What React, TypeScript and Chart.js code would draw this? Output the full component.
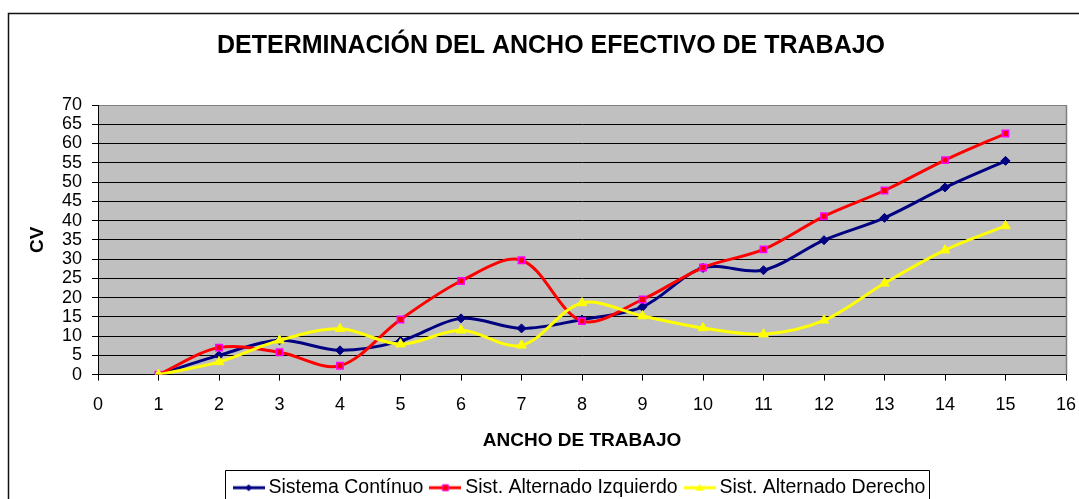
import React, { useEffect, useRef } from 'react';
import { Chart, registerables } from 'chart.js';

Chart.register(...registerables);

const chartTitle = 'DETERMINACIÓN DEL ANCHO EFECTIVO DE TRABAJO';
const xAxisTitle = 'ANCHO DE TRABAJO';
const yAxisTitle = 'CV';
const seriesNames = ['Sistema Contínuo', 'Sist. Alternado Izquierdo', 'Sist. Alternado Derecho'];

const anchoTrabajo = [1, 2, 3, 4, 5, 6, 7, 8, 9, 10, 11, 12, 13, 14, 15];
const sistemaContinuo = [0, 5.0, 8.9, 6.3, 8.7, 14.6, 12.0, 14.3, 17.6, 27.7, 27.1, 34.9, 40.7, 48.6, 55.5];
const alternadoIzquierdo = [0, 7.0, 5.8, 2.3, 14.3, 24.3, 29.7, 13.9, 19.5, 27.8, 32.5, 41.1, 47.8, 55.7, 62.6];
const alternadoDerecho = [0, 3.3, 8.9, 11.9, 7.9, 11.5, 7.6, 18.6, 15.2, 12.1, 10.5, 14.1, 23.7, 32.3, 38.6];

const xTicks = [0, 1, 2, 3, 4, 5, 6, 7, 8, 9, 10, 11, 12, 13, 14, 15, 16];
const yTicks = [0, 5, 10, 15, 20, 25, 30, 35, 40, 45, 50, 55, 60, 65, 70];

const FONT = "'Liberation Sans', Arial, sans-serif";

function makeIcon(color: string, marker: string, markerFill: string, markerStroke: string): HTMLCanvasElement {
  const c = document.createElement('canvas');
  c.width = 32;
  c.height = 12;
  const ctx = c.getContext('2d')!;
  ctx.strokeStyle = color;
  ctx.lineWidth = 3;
  ctx.beginPath();
  ctx.moveTo(0, 6);
  ctx.lineTo(32, 6);
  ctx.stroke();
  ctx.fillStyle = markerFill;
  ctx.strokeStyle = markerStroke;
  ctx.lineWidth = 1;
  ctx.beginPath();
  if (marker === 'diamond') {
    ctx.moveTo(16, 2.5); ctx.lineTo(19.5, 6); ctx.lineTo(16, 9.5); ctx.lineTo(12.5, 6); ctx.closePath();
    ctx.fill();
  } else if (marker === 'square') {
    ctx.rect(13, 3, 6, 6);
    ctx.fill(); ctx.stroke();
  } else {
    ctx.moveTo(16, 2); ctx.lineTo(20, 9); ctx.lineTo(12, 9); ctx.closePath();
    ctx.fill();
  }
  return c;
}

export default function App() {
  const ref = useRef<HTMLCanvasElement>(null);
  useEffect(() => {
    if (!ref.current) return;
    const icons = [
      makeIcon('#000080', 'diamond', '#000080', '#000080'),
      makeIcon('#FF0000', 'square', '#FF0000', '#FF00FF'),
      makeIcon('#FFFF00', 'triangle', '#FFFF00', '#FFFF00'),
    ];
    const toPts = (ys: number[]) => anchoTrabajo.map((x, i) => ({ x, y: ys[i] }));

    const decor = {
      id: 'decor',
      beforeDraw(chart: any) {
        const { ctx, chartArea: a } = chart;
        ctx.save();
        ctx.fillStyle = '#FFFFFF';
        ctx.fillRect(0, 0, chart.width, chart.height);
        ctx.fillStyle = '#C0C0C0';
        ctx.fillRect(a.left, a.top, a.right - a.left, a.bottom - a.top);
        ctx.restore();
      },
      afterDraw(chart: any) {
        const { ctx, chartArea: a } = chart;
        ctx.save();
        ctx.strokeStyle = '#808080';
        ctx.lineWidth = 1.5;
        ctx.beginPath();
        ctx.moveTo(Math.round(a.right) + 0.5, a.top);
        ctx.lineTo(Math.round(a.right) + 0.5, a.bottom);
        ctx.stroke();
        ctx.strokeStyle = '#111';
        ctx.lineWidth = 1.5;
        ctx.beginPath();
        ctx.moveTo(8.5, chart.height + 10);
        ctx.lineTo(8.5, 13.5);
        ctx.lineTo(chart.width + 10, 13.5);
        ctx.stroke();
        ctx.fillStyle = '#000';
        ctx.font = `bold 25px ${FONT}`;
        ctx.textAlign = 'center';
        ctx.textBaseline = 'middle';
        ctx.fillText(chartTitle, 551, 46);
        const boxes = chart.legend?.legendHitBoxes;
        if (boxes && boxes.length) {
          const first = boxes[0];
          const last = boxes[boxes.length - 1];
          const l = Math.round(first.left - 14) + 0.5;
          const r = Math.round(last.left + last.width + 4) + 0.5;
          const t = Math.round(first.top + first.height / 2 - 17.5) + 0.5;
          ctx.strokeStyle = '#000';
          ctx.lineWidth = 1;
          ctx.beginPath();
          ctx.moveTo(l, chart.height + 10);
          ctx.lineTo(l, t);
          ctx.lineTo(r, t);
          ctx.lineTo(r, chart.height + 10);
          ctx.stroke();
        }
        ctx.restore();
      },
    };

    const chart = new Chart(ref.current, {
      type: 'line',
      data: {
        datasets: [
          {
            label: seriesNames[0],
            data: toPts(sistemaContinuo),
            borderColor: '#000080',
            backgroundColor: '#000080',
            borderWidth: 3,
            pointStyle: 'rectRot',
            pointRadius: 4.5,
            pointBackgroundColor: '#000080',
            pointBorderColor: '#000080',
            pointBorderWidth: 1,
            tension: 0.33,
            order: 3,
          },
          {
            label: seriesNames[1],
            data: toPts(alternadoIzquierdo),
            borderColor: '#FF0000',
            backgroundColor: '#FF0000',
            borderWidth: 3,
            pointStyle: 'rect',
            pointRadius: 4.5,
            pointBackgroundColor: '#FF0000',
            pointBorderColor: '#FF00FF',
            pointBorderWidth: 1.5,
            tension: 0.33,
            order: 2,
          },
          {
            label: seriesNames[2],
            data: toPts(alternadoDerecho),
            borderColor: '#FFFF00',
            backgroundColor: '#FFFF00',
            borderWidth: 3,
            pointStyle: 'triangle',
            pointRadius: 5.5,
            pointBackgroundColor: '#FFFF00',
            pointBorderColor: '#FFFF00',
            pointBorderWidth: 1,
            tension: 0.33,
            order: 1,
          },
        ],
      },
      options: {
        responsive: false,
        animation: false,
        layout: { padding: { left: 8, top: 105, right: 13, bottom: -8.5 } },
        scales: {
          x: {
            type: 'linear',
            min: xTicks[0],
            max: xTicks[xTicks.length - 1],
            afterBuildTicks: (scale: any) => { scale.ticks = xTicks.map((v) => ({ value: v })); },
            afterFit: (scale: any) => { scale.paddingRight = 12; scale.paddingLeft = 12; },
            grid: { drawOnChartArea: false, drawTicks: true, tickLength: 6, tickColor: '#000', lineWidth: 1 },
            border: { display: true, color: '#000', width: 1 },
            ticks: { autoSkip: false, maxRotation: 0, padding: 13.5, color: '#000', font: { family: FONT, size: 18 } },
            title: { display: true, text: xAxisTitle, color: '#000', font: { family: FONT, size: 19, weight: 'bold' }, padding: { top: 0, bottom: 14 } },
          },
          y: {
            type: 'linear',
            min: yTicks[0],
            max: yTicks[yTicks.length - 1],
            afterBuildTicks: (scale: any) => { scale.ticks = yTicks.map((v) => ({ value: v })); },
            afterFit: (scale: any) => { scale.width = 90; },
            grid: {
              color: (c: any) => (c.tick && c.tick.value === yTicks[yTicks.length - 1] ? '#808080' : '#000'),
              tickColor: '#000',
              lineWidth: 1,
              drawTicks: true,
              tickLength: 6,
            },
            border: { display: true, color: '#000', width: 1 },
            ticks: { autoSkip: false, padding: 10, color: '#000', font: { family: FONT, size: 18 } },
            title: { display: true, text: yAxisTitle, color: '#000', font: { family: FONT, size: 19, weight: 'bold' }, padding: { top: 18, bottom: 0 } },
          },
        },
        plugins: {
          title: { display: false },
          tooltip: { enabled: false },
          legend: {
            display: true,
            position: 'bottom',
            fullSize: false,
            labels: {
              usePointStyle: true,
              pointStyleWidth: 20,
              padding: 12,
              color: '#000',
              font: { family: FONT, size: 19.5 },
              generateLabels: (ch: any) =>
                ch.data.datasets.map((ds: any, i: number) => ({
                  text: ds.label,
                  fillStyle: ds.borderColor,
                  strokeStyle: ds.borderColor,
                  lineWidth: 0,
                  pointStyle: icons[i],
                  hidden: false,
                  datasetIndex: i,
                  fontColor: '#000',
                })),
            },
          },
        },
      } as any,
      plugins: [decor],
    });
    return () => chart.destroy();
  }, []);

  return (
    <div style={{ position: 'fixed', left: 0, top: 0, width: 1079, height: 499, overflow: 'hidden', background: '#fff' }}>
      <canvas ref={ref} width={1079} height={499} style={{ display: 'block', width: 1079, height: 499 }} />
    </div>
  );
}
